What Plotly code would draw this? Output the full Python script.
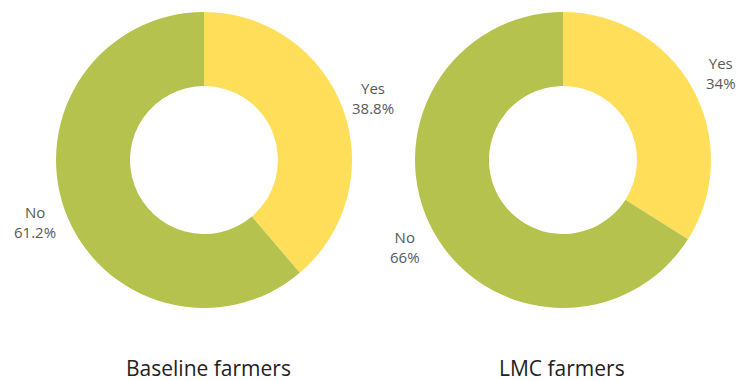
import numpy as np
import plotly.graph_objects as go

labels = ["Yes", "No"]
baseline_values = [38.8, 61.2]
lmc_values = [34, 66]
group_titles = ["Baseline farmers", "LMC farmers"]

colors = ["#FFDE59", "#B5C24E"]

W, H = 748, 381
fig = go.Figure()

domains = [
    dict(x=[0.0749, 0.4706], y=[0.1916, 0.9685]),
    dict(x=[0.5548, 0.9505], y=[0.1916, 0.9685]),
]
title_x = [208.5 / W, 562 / W]

for vals, dom in zip([baseline_values, lmc_values], domains):
    fig.add_trace(go.Pie(
        labels=labels,
        values=vals,
        hole=0.5,
        sort=False,
        direction="clockwise",
        rotation=0,
        marker=dict(colors=colors, line=dict(width=0)),
        textinfo="none",
        domain=dom,
        showlegend=False,
        hoverinfo="label+percent",
    ))

    # outside labels placed at each slice's mid-angle
    total = float(sum(vals))
    cx = (dom["x"][0] + dom["x"][1]) / 2 * W
    cy = (1 - (dom["y"][0] + dom["y"][1]) / 2) * H
    radius = min((dom["x"][1] - dom["x"][0]) * W, (dom["y"][1] - dom["y"][0]) * H) / 2
    label_r = radius * 1.215
    cum = 0.0
    for lab, v in zip(labels, vals):
        mid = (cum + v / 2) / total * 2 * np.pi
        cum += v
        px = cx + label_r * np.sin(mid)
        py = cy - label_r * np.cos(mid)
        pct = f"{v / total * 100:.3g}%"
        fig.add_annotation(
            text=f"{lab}<br>{pct}",
            x=px / W, y=1 - py / H,
            xref="paper", yref="paper",
            xanchor="center", yanchor="middle",
            align="center",
            showarrow=False,
            font=dict(family="Open Sans", size=15, color="#595959"),
        )

for title, tx in zip(group_titles, title_x):
    fig.add_annotation(
        text=title,
        x=tx,
        y=1 - 368 / H,
        xref="paper", yref="paper",
        xanchor="center", yanchor="middle",
        showarrow=False,
        borderpad=0,
        font=dict(family="Open Sans", size=21, color="#222222"),
    )

fig.update_layout(
    width=W, height=H,
    margin=dict(l=0, r=0, t=0, b=0),
    paper_bgcolor="white",
    plot_bgcolor="white",
)

fig.write_html("out.html")
